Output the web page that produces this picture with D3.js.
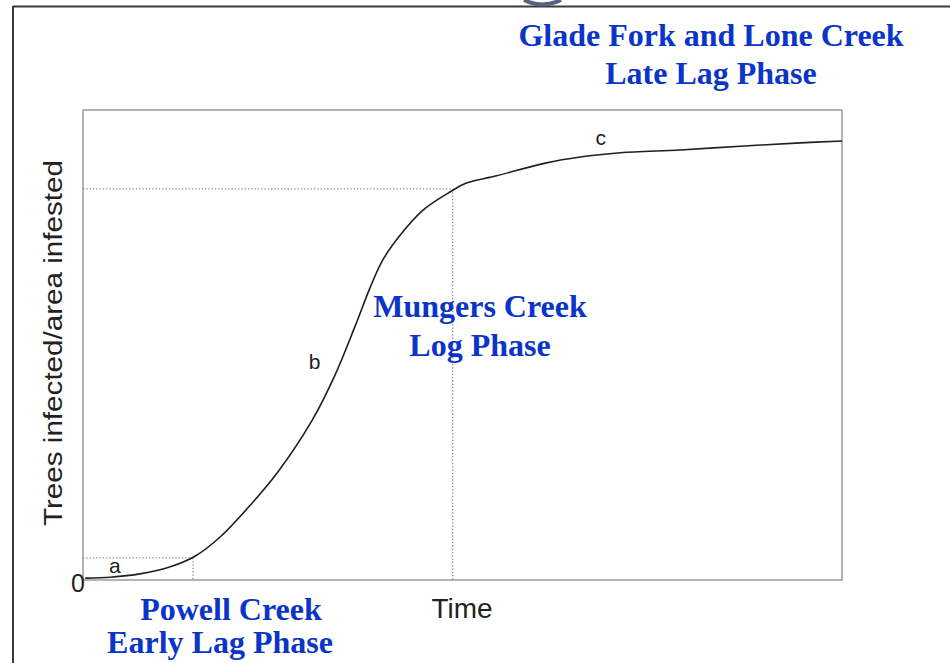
<!DOCTYPE html>
<html><head><meta charset="utf-8">
<script src="https://cdn.jsdelivr.net/npm/d3@7"></script>
<style>html,body{margin:0;padding:0;background:#fff;overflow:hidden}</style>
</head><body>
<svg id="c" width="950" height="663"></svg>
<script>
// Data (time units 0-100, infection level 0-100)
const timeValues = [0.3, 3.6, 7.5, 11.5, 14.8, 18.1, 22.3, 25.6, 30.2, 33.2, 35.8, 37.8, 39.5, 41.8, 44.8, 48.4, 50.6, 54.5, 60.9, 65.5, 70.8, 78.7, 86.6, 94.5, 100];
const infectedValues = [0.4, 0.6, 1.3, 2.8, 5.1, 9.2, 16.4, 22.8, 34.0, 43.6, 53.8, 62.1, 68.1, 73.4, 78.7, 82.6, 84.5, 86.0, 88.7, 90.0, 90.9, 91.5, 92.3, 93.0, 93.4];
const phaseBounds = [{t: 14.5, v: 4.7}, {t: 48.7, v: 83.2}];
const curveLabels = [{text: "a", t: 4.2, v: 1.5}, {text: "b", t: 30.5, v: 45}, {text: "c", t: 68.2, v: 92.5}];
const phaseLabels = [
  {lines: ["Glade Fork and Lone Creek", "Late Lag Phase"], xs: [711, 711], y: 46, gap: 38},
  {lines: ["Mungers Creek", "Log Phase"], xs: [480, 480], y: 317, gap: 39},
  {lines: ["Powell Creek", "Early Lag Phase"], xs: [231, 220], y: 620, gap: 33}
];
const xLabel = "Time";
const yLabel = "Trees infected/area infested";
const zeroLabel = "0";

const svg = d3.select("#c");
const L = 83, R = 842, T = 110, B = 580;
const x = d3.scaleLinear().domain([0, 100]).range([L, R]);
const y = d3.scaleLinear().domain([0, 100]).range([B, T]);

// outer page border fragments
svg.append("line").attr("x1", 13).attr("x2", 950).attr("y1", 6.5).attr("y2", 6.5).attr("stroke", "#3a3a3a").attr("stroke-width", 2);
svg.append("line").attr("x1", 13).attr("x2", 13).attr("y1", 6).attr("y2", 663).attr("stroke", "#3a3a3a").attr("stroke-width", 2);
// cut-off descender from slide title above
svg.append("path").attr("d", "M524,0 Q542,9 561,0").attr("fill", "none")
  .attr("stroke", "#56627e").attr("stroke-width", 4);

// plot frame
svg.append("rect").attr("x", L).attr("y", T).attr("width", R - L).attr("height", B - T)
  .attr("fill", "none").attr("stroke", "#9a9a9a").attr("stroke-width", 1.5);

// dotted phase guides
const guides = svg.append("g").attr("stroke", "#8a8a8a").attr("stroke-width", 1.3).attr("stroke-dasharray", "1.3,2");
phaseBounds.forEach(p => {
  guides.append("line").attr("x1", x(0)).attr("x2", x(p.t)).attr("y1", y(p.v)).attr("y2", y(p.v));
  guides.append("line").attr("x1", x(p.t)).attr("x2", x(p.t)).attr("y1", y(p.v)).attr("y2", y(0));
});

// curve
const pts = timeValues.map((t, i) => [t, infectedValues[i]]);
svg.append("path").datum(pts)
  .attr("d", d3.line().x(d => x(d[0])).y(d => y(d[1])).curve(d3.curveCatmullRom.alpha(0.5)))
  .attr("fill", "none").attr("stroke", "#1e1e2a").attr("stroke-width", 1.6);

// curve letters
svg.selectAll("text.cl").data(curveLabels).join("text").attr("class", "cl")
  .attr("x", d => x(d.t)).attr("y", d => y(d.v)).attr("text-anchor", "middle")
  .attr("font-family", "Liberation Sans").attr("font-size", 21).attr("fill", "#222").text(d => d.text);

// axis texts
svg.append("text").attr("x", 78).attr("y", 592).attr("text-anchor", "middle")
  .attr("font-family", "Liberation Sans").attr("font-size", 25).attr("fill", "#222").text(zeroLabel);
svg.append("text").attr("x", 462).attr("y", 618).attr("text-anchor", "middle")
  .attr("font-family", "Liberation Sans").attr("font-size", 28).attr("fill", "#222")
  .attr("textLength", 61).attr("lengthAdjust", "spacingAndGlyphs").text(xLabel);
svg.append("text").attr("transform", "translate(62,343) rotate(-90)").attr("text-anchor", "middle")
  .attr("font-family", "Liberation Sans").attr("font-size", 25).attr("fill", "#222")
  .attr("textLength", 366).attr("lengthAdjust", "spacingAndGlyphs").text(yLabel);

// phase labels
phaseLabels.forEach(p => {
  const t = svg.append("text").attr("text-anchor", "middle")
    .attr("font-family", "Liberation Serif").attr("font-weight", "bold").attr("font-size", 32).attr("fill", "#0a35c8");
  p.lines.forEach((l, i) => t.append("tspan").attr("x", p.xs[i]).attr("y", p.y + i * p.gap).text(l));
});
</script>
</body></html>
